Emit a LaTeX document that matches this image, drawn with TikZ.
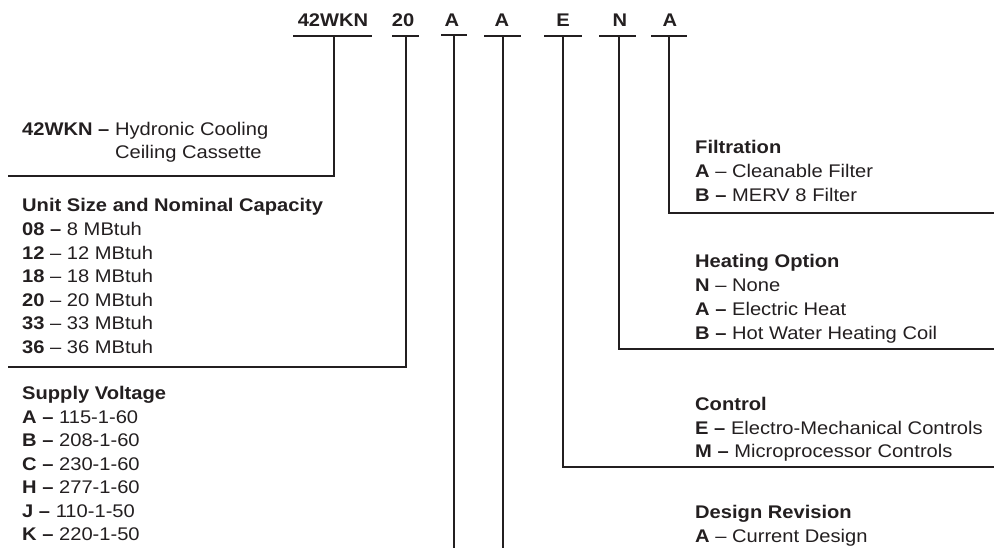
\documentclass[tikz,border=0pt]{standalone}
\usepackage{fontspec}
\setmainfont{Liberation Sans}[FakeStretch=1.1]
\definecolor{ink}{RGB}{35,31,32}
\newcommand{\bodyfont}{\fontsize{18.3}{23.5}\selectfont}
\begin{document}
\begin{tikzpicture}[x=1pt,y=-1pt,
  txt/.style={anchor=base west,inner sep=0pt,font=\bodyfont,text=ink},
  code/.style={anchor=base,inner sep=0pt,font=\bodyfont\bfseries,text=ink},
  rule/.style={draw=ink,line width=1.6pt},
  leader/.style={draw=ink,line width=1.6pt}]
\useasboundingbox (0,0) rectangle (994,548);

% code letters
\node[code] (c1) at (333,27) {42WKN};
\node[code] (c2) at (403,27) {20};
\node[code] (c3) at (452,27) {A};
\node[code] (c4) at (502,27) {A};
\node[code] (c5) at (563,27) {E};
\node[code] (c6) at (620,27) {N};
\node[code] (c7) at (670,27) {A};

% underlines
\draw[rule] (293,36) -- (372,36);
\draw[rule] (392,36) -- (419,36);
\draw[rule] (441,35) -- (467,35);
\draw[rule] (484,36) -- (521,36);
\draw[rule] (544,36) -- (582,36);
\draw[rule] (599,36) -- (636,36);
\draw[rule] (651,36) -- (687,36);

% underline mid points
\coordinate (t1) at (334,36);
\coordinate (t2) at (406,36);
\coordinate (t3) at (454,35);
\coordinate (t4) at (503,36);
\coordinate (t5) at (563,36);
\coordinate (t6) at (619,36);
\coordinate (t7) at (669,36);

% leader ends
\coordinate (e1) at (8,176);
\coordinate (e2) at (8,367);
\coordinate (e3) at (454,548);
\coordinate (e4) at (503,548);
\coordinate (e5) at (994,467);
\coordinate (e6) at (994,349);
\coordinate (e7) at (994,213);

\draw[leader] (t1) |- (e1);
\draw[leader] (t2) |- (e2);
\draw[leader] (t3) -- (e3);
\draw[leader] (t4) -- (e4);
\draw[leader] (t5) |- (e5);
\draw[leader] (t6) |- (e6);
\draw[leader] (t7) |- (e7);

% left blocks
\node[txt] (m1) at (22,136) {\textbf{42WKN –} Hydronic Cooling};
\node[txt] (m2) at (22,159) {\phantom{\textbf{42WKN –} }Ceiling Cassette};

\node[txt] (u0) at (22,212) {\textbf{Unit Size and Nominal Capacity}};
\node[txt] (u1) at (22,236) {\textbf{08 –} 8 MBtuh};
\node[txt] (u2) at (22,259.5) {\textbf{12} – 12 MBtuh};
\node[txt] (u3) at (22,283) {\textbf{18} – 18 MBtuh};
\node[txt] (u4) at (22,306.5) {\textbf{20} – 20 MBtuh};
\node[txt] (u5) at (22,330) {\textbf{33} – 33 MBtuh};
\node[txt] (u6) at (22,353.5) {\textbf{36} – 36 MBtuh};

\node[txt] (v0) at (22,399) {\textbf{Supply Voltage}};
\node[txt] (v1) at (22,423) {\textbf{A –} 115-1-60};
\node[txt] (v2) at (22,446.5) {\textbf{B –} 208-1-60};
\node[txt] (v3) at (22,470) {\textbf{C –} 230-1-60};
\node[txt] (v4) at (22,493.5) {\textbf{H –} 277-1-60};
\node[txt] (v5) at (22,517) {\textbf{J –} 110-1-50};
\node[txt] (v6) at (22,540.5) {\textbf{K –} 220-1-50};

% right blocks
\node[txt] (f0) at (695,154) {\textbf{Filtration}};
\node[txt] (f1) at (695,178) {\textbf{A} – Cleanable Filter};
\node[txt] (f2) at (695,201.5) {\textbf{B –} MERV 8 Filter};

\node[txt] (h0) at (695,268) {\textbf{Heating Option}};
\node[txt] (h1) at (695,292) {\textbf{N} – None};
\node[txt] (h2) at (695,315.5) {\textbf{A –} Electric Heat};
\node[txt] (h3) at (695,339) {\textbf{B –} Hot Water Heating Coil};

\node[txt] (k0) at (695,410) {\textbf{Control}};
\node[txt] (k1) at (695,434) {\textbf{E –} Electro-Mechanical Controls};
\node[txt] (k2) at (695,457.5) {\textbf{M –} Microprocessor Controls};

\node[txt] (d0) at (695,518) {\textbf{Design Revision}};
\node[txt] (d1) at (695,542) {\textbf{A} – Current Design};
\end{tikzpicture}
\end{document}
